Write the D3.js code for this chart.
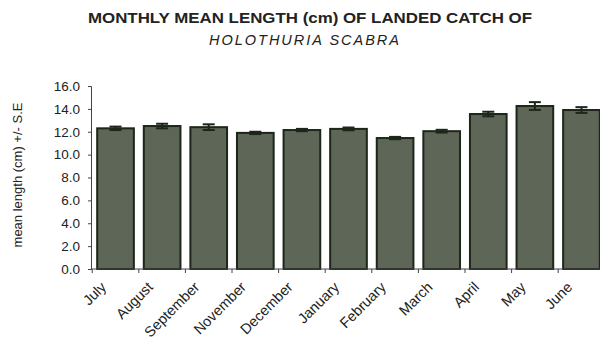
<!DOCTYPE html>
<html><head><meta charset="utf-8">
<script src="https://cdn.jsdelivr.net/npm/d3@7"></script>
<style>body{margin:0;background:#fff}svg{display:block;font-family:Arial,"Liberation Sans",sans-serif}</style>
</head><body><svg id="c" width="600" height="350"></svg>
<script>
const months = ["July","August","September","November","December","January","February","March","April","May","June"];
const meanLength = [12.3,12.5,12.4,11.9,12.15,12.25,11.45,12.05,13.55,14.25,13.9];
const stdError = [0.15,0.2,0.25,0.1,0.1,0.12,0.1,0.12,0.2,0.34,0.25];
const yTicks = [0,2,4,6,8,10,12,14,16];
const titleLine1 = "MONTHLY MEAN LENGTH (cm) OF LANDED CATCH OF";
const titleLine2 = "HOLOTHURIA SCABRA";
const yLabel = "mean length (cm) +/- S.E";

const svg = d3.select("#c");
const ink = "#222";
const x = d3.scaleBand().domain(months).range([92,605]).paddingInner(0.17).paddingOuter(0.09);
const y = d3.scaleLinear().domain([0,16]).range([269,86]);

svg.append("text").attr("x",310).attr("y",23).attr("text-anchor","middle")
  .attr("font-size",14.5).attr("font-weight","bold").attr("fill",ink)
  .attr("textLength",444).attr("lengthAdjust","spacingAndGlyphs").text(titleLine1);
svg.append("text").attr("x",304).attr("y",45).attr("text-anchor","middle")
  .attr("font-size",14.5).attr("font-style","italic").attr("fill",ink)
  .attr("textLength",190).attr("lengthAdjust","spacing").text(titleLine2);

svg.append("text").attr("transform","translate(22,175) rotate(-90)").attr("text-anchor","middle")
  .attr("font-size",13).attr("fill",ink).text(yLabel);

// bars
svg.selectAll("rect.bar").data(months).join("rect").attr("class","bar")
  .attr("x",d=>x(d)+1).attr("width",x.bandwidth()-2)
  .attr("y",(d,i)=>y(meanLength[i])).attr("height",(d,i)=>y(0)-y(meanLength[i]))
  .attr("fill","#5d6657").attr("stroke","#1c2619").attr("stroke-width",2);

// error bars
const eb = svg.append("g").attr("stroke","#1c2619").attr("stroke-width",2);
months.forEach((m,i)=>{
  const cx = x(m)+x.bandwidth()/2;
  const top = y(meanLength[i]+stdError[i]), bot = y(meanLength[i]-stdError[i]);
  eb.append("line").attr("x1",cx).attr("x2",cx).attr("y1",top).attr("y2",bot);
  eb.append("line").attr("x1",cx-6).attr("x2",cx+6).attr("y1",top).attr("y2",top);
  eb.append("line").attr("x1",cx-6).attr("x2",cx+6).attr("y1",bot).attr("y2",bot);
});

// y axis
const ya = svg.append("g").attr("transform","translate(91,0)")
  .call(d3.axisLeft(y).tickValues(yTicks).tickFormat(d3.format(".1f")).tickSize(3).tickPadding(8));
ya.select(".domain").attr("stroke","#444");
ya.selectAll("line").attr("stroke","#444");
ya.selectAll("text").attr("font-size",13.5).attr("fill",ink).attr("font-family","Arial, Liberation Sans, sans-serif");

// x axis
const xa = svg.append("g").attr("transform","translate(0,269)");
xa.append("line").attr("x1",91).attr("x2",600).attr("stroke","#444");
const step = x.step();
const bounds = months.map((m,i)=>x(m)-x.paddingInner()*step/2);
xa.selectAll("line.t").data(bounds).join("line").attr("class","t")
  .attr("x1",d=>d).attr("x2",d=>d).attr("y1",0).attr("y2",4).attr("stroke","#444");
xa.selectAll("text").data(months).join("text")
  .attr("transform",(d,i)=>`translate(${bounds[i]+15},${19}) rotate(-45)`)
  .attr("text-anchor","end").attr("font-size",14.5).attr("fill",ink).text(d=>d);
</script></body></html>
